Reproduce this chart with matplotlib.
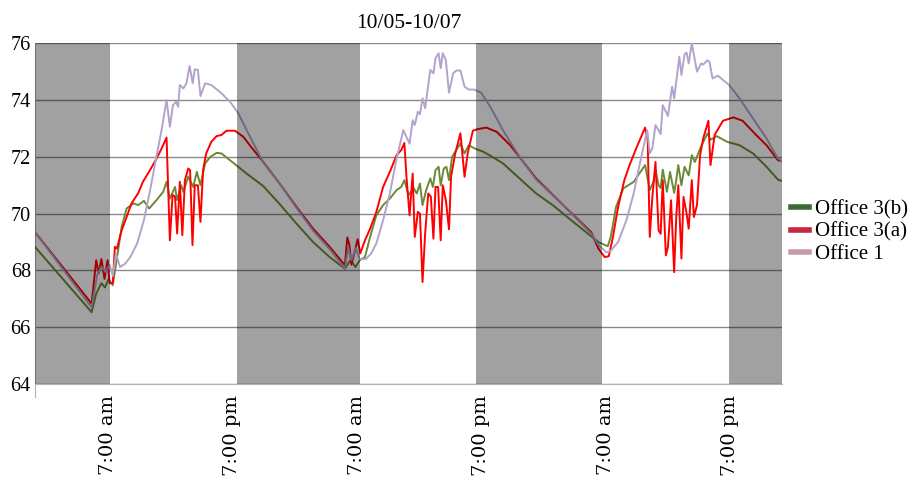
import matplotlib
matplotlib.use("Agg")
import matplotlib.pyplot as plt
from matplotlib.lines import Line2D

# hours since 10/05 00:00
hours_b = [0, 5.46, 5.9, 6.4, 6.75, 7.1, 7.5, 7.87, 8.35, 8.83, 9.5, 9.95, 10.5, 11.0, 11.72,
           12.36, 12.68, 13.0, 13.5, 13.7, 14.1, 14.3, 14.77, 15.25, 15.6, 15.95, 16.4, 16.9,
           17.5, 17.97, 18.8, 20.4, 22.0, 23.6, 25.2, 26.8, 28.4, 29.87, 30.4, 30.9, 31.3,
           31.8, 32.3, 32.9, 33.55, 34.2, 34.85, 35.3, 35.6, 36.0, 36.5, 36.8, 37.1, 37.35,
           37.7, 38.1, 38.35, 38.6, 38.9, 39.1, 39.4, 39.65, 39.9, 40.2, 40.6, 41.0, 41.4,
           41.8, 42.4, 43.2, 43.8, 45.1, 46.7, 48.3, 49.9, 51.5, 53.1, 54.3, 55.2, 55.5,
           56.0, 56.7, 57.7, 58.8, 59.25, 59.6, 59.8, 60.1, 60.3, 60.5, 60.9, 61.2, 61.6,
           61.8, 62.0, 62.3, 62.6, 63.0, 63.3, 63.6, 64.1, 64.8, 65.1, 65.7, 66.7, 67.9,
           69.2, 70.5, 71.6, 72.0]
office3b = [68.83, 66.53, 67.18, 67.55, 67.4, 67.7, 67.48, 68.36, 69.53, 70.18, 70.36, 70.3,
            70.45, 70.18, 70.48, 70.77, 71.12, 70.53, 70.94, 70.48, 71.0, 70.77, 71.3, 70.94,
            71.47, 71.0, 71.77, 72.0, 72.14, 72.12, 71.88, 71.41, 70.97, 70.33, 69.65, 69.0,
            68.47, 68.06, 68.36, 68.12, 68.36, 68.47, 69.18, 69.94, 70.3, 70.53, 70.83, 70.94,
            71.18, 70.65, 70.89, 70.71, 71.06, 70.3, 70.83, 71.24, 70.94, 71.53, 71.65, 71.0,
            71.59, 71.65, 71.18, 72.0, 72.24, 72.47, 72.12, 72.41, 72.29, 72.18, 72.06, 71.77,
            71.24, 70.71, 70.3, 69.82, 69.35, 69.0, 68.85, 69.2, 70.24, 70.89, 71.12, 71.71,
            70.83, 71.12, 71.53, 71.0, 70.9, 71.55, 70.77, 71.47, 70.73, 71.18, 71.71, 71.0,
            71.65, 71.35, 72.06, 71.82, 72.29, 72.82, 72.6, 72.73, 72.53, 72.41, 72.12, 71.65,
            71.2, 71.15]

hours_a = [0, 5.46, 5.9, 6.15, 6.4, 6.7, 7.0, 7.2, 7.5, 7.7, 7.9, 8.35, 8.83, 9.3, 9.95, 10.4,
           11.08, 11.72, 12.2, 12.68, 13.0, 13.26, 13.5, 13.7, 13.96, 14.2, 14.45, 14.77,
           14.95, 15.18, 15.4, 15.7, 15.95, 16.2, 16.5, 17.0, 17.5, 17.97, 18.46, 19.27,
           20.07, 20.7, 22.0, 23.6, 25.2, 26.8, 28.4, 29.87, 30.1, 30.3, 30.5, 31.1, 31.35,
           31.8, 32.3, 32.9, 33.55, 34.2, 34.85, 35.3, 35.6, 35.8, 36.1, 36.4, 36.6, 36.9,
           37.1, 37.35, 37.6, 37.9, 38.15, 38.4, 38.6, 38.85, 39.1, 39.3, 39.6, 39.9, 40.1,
           40.5, 41.0, 41.4, 41.7, 42.2, 42.7, 43.5, 44.5, 45.8, 48.3, 50.9, 53.6, 54.3,
           54.9, 55.3, 55.7, 56.2, 56.8, 57.3, 58.0, 58.8, 59.05, 59.25, 59.5, 59.8, 60.1,
           60.3, 60.5, 60.8, 61.0, 61.3, 61.6, 61.8, 62.0, 62.3, 62.5, 62.8, 63.0, 63.3,
           63.5, 63.8, 64.1, 64.4, 64.9, 65.1, 65.5, 66.3, 67.3, 68.2, 69.5, 70.5, 71.6, 72.0]
office3a = [69.35, 66.83, 68.36, 67.9, 68.4, 67.7, 68.36, 67.55, 67.55, 68.83, 68.77, 69.41,
            69.88, 70.36, 70.72, 71.12, 71.53, 71.94, 72.29, 72.68, 69.06, 70.66, 70.6, 69.3,
            71.12, 69.24, 71.18, 71.59, 71.53, 68.89, 71.0, 71.0, 69.71, 71.53, 72.12, 72.53,
            72.73, 72.77, 72.92, 72.92, 72.71, 72.41, 71.82, 71.05, 70.24, 69.47, 68.83, 68.18,
            69.16, 68.9, 68.2, 69.1, 68.6, 69.06, 69.47, 70.06, 70.94, 71.47, 72.06, 72.24,
            72.49, 71.3, 69.94, 71.41, 69.18, 70.06, 70.0, 67.59, 69.29, 70.71, 70.6, 69.12,
            70.94, 70.94, 69.06, 71.0, 70.47, 69.45, 71.3, 72.12, 72.83, 71.3, 72.12, 72.92,
            72.98, 73.03, 72.88, 72.41, 71.24, 70.3, 69.35, 68.77, 68.47, 68.5, 69.18, 70.24,
            71.18, 71.71, 72.35, 73.03, 72.59, 69.18, 70.59, 71.82, 69.41, 69.29, 71.18, 68.53,
            68.83, 70.47, 67.94, 69.88, 71.0, 68.42, 70.59, 70.0, 69.47, 71.18, 69.88, 70.3,
            72.06, 72.65, 73.27, 71.71, 72.77, 73.27, 73.39, 73.27, 72.77, 72.41, 71.88, 71.85]

hours_1 = [0, 5.46, 6.0, 6.4, 6.8, 7.2, 7.5, 7.8, 8.2, 8.7, 9.2, 9.85, 10.5, 11.1, 11.7, 12.2,
           12.68, 13.0, 13.3, 13.6, 13.8, 13.96, 14.3, 14.6, 14.9, 15.2, 15.4, 15.7, 15.95,
           16.4, 17.0, 17.97, 18.8, 19.6, 20.4, 22.0, 23.6, 25.2, 26.8, 28.4, 29.87, 30.2,
           30.5, 30.9, 31.3, 31.9, 32.4, 32.9, 33.55, 34.2, 34.85, 35.5, 36.1, 36.4, 36.6,
           36.9, 37.1, 37.35, 37.6, 38.1, 38.4, 38.6, 38.9, 39.1, 39.3, 39.6, 39.9, 40.3,
           40.6, 41.0, 41.4, 41.8, 42.3, 43.0, 43.9, 45.1, 46.7, 48.3, 50.9, 53.6, 54.3,
           55.1, 55.5, 56.2, 57.0, 57.7, 58.3, 59.0, 59.25, 59.5, 59.8, 60.1, 60.3, 60.5,
           61.0, 61.4, 61.6, 62.1, 62.3, 62.6, 62.8, 63.0, 63.3, 63.5, 63.8, 64.2, 64.4,
           64.8, 65.0, 65.3, 65.8, 66.9, 67.9, 69.2, 70.5, 71.6, 72.0]
office1 = [69.35, 66.7, 67.84, 68.13, 67.95, 68.2, 67.8, 68.59, 68.12, 68.24, 68.48, 68.95,
           69.77, 70.83, 72.0, 72.94, 74.0, 73.06, 73.82, 73.94, 73.76, 74.53, 74.41, 74.59,
           75.2, 74.59, 75.08, 75.06, 74.14, 74.59, 74.53, 74.24, 73.94, 73.53, 72.94, 71.8,
           71.05, 70.2, 69.4, 68.75, 68.06, 68.8, 68.36, 68.8, 68.4, 68.4, 68.6, 68.95, 69.77,
           70.71, 71.94, 72.94, 72.46, 73.29, 73.12, 73.59, 73.5, 74.06, 73.71, 75.06, 74.94,
           75.47, 75.65, 75.12, 75.65, 75.4, 74.26, 74.94, 75.04, 75.04, 74.47, 74.37, 74.37,
           74.26, 73.75, 72.94, 72.0, 71.2, 70.3, 69.3, 68.9, 68.63, 68.7, 69.0, 69.77, 70.71,
           71.77, 72.94, 72.12, 72.3, 73.12, 72.94, 72.8, 73.82, 73.44, 74.47, 74.06, 75.53,
           74.88, 75.62, 75.67, 75.29, 76.0, 75.6, 75.0, 75.29, 75.25, 75.4, 75.35, 74.76,
           74.86, 74.53, 74.06, 73.35, 72.65, 71.94, 71.85]

# shaded night periods, as drawn in the source (roughly 19:00 - 7:00)
nights = [(0, 7.2), (19.5, 31.3), (42.5, 54.6), (66.9, 72)]
tick_hours = [7, 19, 31, 43, 55, 67]
tick_labels = ['7:00 am', '7:00 pm', '7:00 am', '7:00 pm', '7:00 am', '7:00 pm']
yticks = [64, 66, 68, 70, 72, 74, 76]

serif = ['Liberation Serif', 'DejaVu Serif']
plt.rcParams['font.family'] = serif

fig = plt.figure(figsize=(9.13, 4.84), dpi=100)
ax = fig.add_axes([0.0383, 0.2066, 0.8183, 0.704])

ax.plot(hours_b, office3b, color='#6b8a35', lw=1.4, zorder=3)
ax.plot(hours_a, office3a, color='#ff0000', lw=1.4, zorder=4)
ax.plot(hours_1, office1, color='#b3a3cc', lw=1.4, zorder=5)

for start, end in nights:
    ax.axvspan(start, end, color='black', alpha=0.37, lw=0, zorder=6)

ax.set_xlim(0, 72)
ax.set_ylim(64, 76)
ax.set_yticks(yticks)
ax.set_yticklabels([str(v) for v in yticks], fontsize=14.5)
ax.yaxis.grid(True, color='#8a8a8a', lw=1.0, zorder=1)
ax.set_axisbelow(True)
ax.tick_params(axis='y', length=0, pad=3)
ax.set_xticks(tick_hours)
ax.set_xticklabels(tick_labels, rotation=90, fontsize=14, family='DejaVu Serif',
                   va='top', ha='center')
ax.tick_params(axis='x', length=0, pad=8)

for side in ['top', 'right']:
    ax.spines[side].set_visible(False)
ax.spines['left'].set_color('#b4b4b4')
ax.spines['bottom'].set_color('#b4b4b4')
ax.spines['left'].set_bounds(63.55, 76)

ax.set_title('10/05-10/07', fontsize=15.5, pad=11)

handles = [Line2D([], [], color='#3a6b32', lw=4),
           Line2D([], [], color='#c3283c', lw=4),
           Line2D([], [], color='#c49ba7', lw=4)]
ax.legend(handles, ['Office 3(b)', 'Office 3(a)', 'Office 1'], loc='center left',
          bbox_to_anchor=(0.995, 0.446), frameon=False, fontsize=15, handlelength=0.85,
          handletextpad=0.3, labelspacing=0.12, borderaxespad=0.2)

fig.savefig('out.png', dpi=100)
